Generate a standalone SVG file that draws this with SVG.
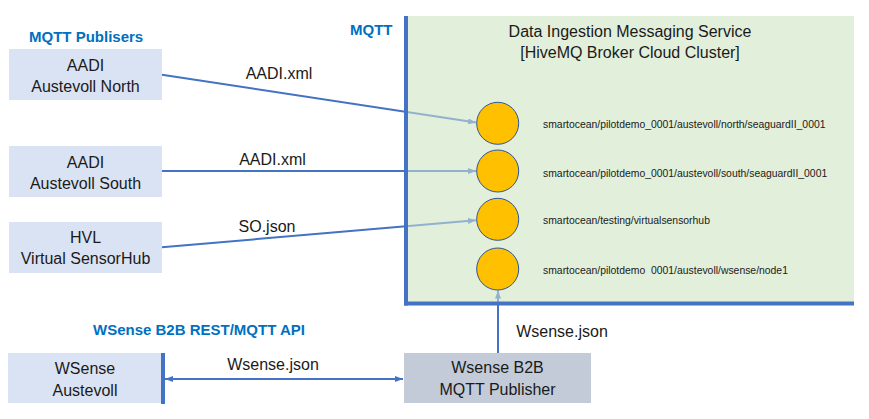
<svg xmlns="http://www.w3.org/2000/svg" width="869" height="419" viewBox="0 0 869 419">
<style>
  .box { fill: #DAE3F3; }
  .box2 { fill: #C3CBD9; }
  .t { font-family: "Liberation Sans", Arial, sans-serif; font-size: 16px; fill: #1a1a1a; }
  .tc { text-anchor: middle; }
  .h { font-family: "Liberation Sans", Arial, sans-serif; font-size: 15px; font-weight: bold; fill: #0070C0; }
  .topic { font-family: "Liberation Sans", Arial, sans-serif; font-size: 10.4px; fill: #1a1a1a; white-space: pre; }
  .con { stroke: #4472C4; stroke-width: 2; fill: none; }
  .bar { stroke: #4472C4; stroke-width: 4; fill: none; }
  .topicc { fill: #FFC000; stroke: #2F5597; stroke-width: 1; }
</style>
<defs>
  <marker id="arr" viewBox="0 0 8 6" refX="8" refY="3" markerWidth="4" markerHeight="3" orient="auto-start-reverse">
    <path d="M0,0 L8,3 L0,6 Z" fill="#4472C4"/>
  </marker>
</defs>
<rect width="869" height="419" fill="#ffffff"/>

<g id="broker">
  <rect x="406" y="16" width="448" height="288" fill="#E2EFDA"/>
</g>

<g id="connectors">
  <path class="con" d="M162,74.7 L476,122.6" marker-end="url(#arr)"/>
  <path class="con" d="M162,171 L476,171" marker-end="url(#arr)"/>
  <path class="con" d="M162,247.3 L476,220.2" marker-end="url(#arr)"/>
  <path class="con" d="M165,379 L403,379" marker-start="url(#arr)" marker-end="url(#arr)"/>
  <path class="con" d="M498,353 L498,290.5" marker-end="url(#arr)"/>
</g>

<g id="broker-veil">
  <rect x="408" y="16" width="446" height="286" fill="#E2EFDA" fill-opacity="0.5"/>
  <path class="bar" d="M406,16 L406,305.5"/>
  <path class="bar" d="M404,303.5 L854,303.5"/>
  <text class="t tc" x="630" y="36.5">Data Ingestion Messaging Service</text>
  <text class="t tc" x="630" y="57.5">[HiveMQ Broker Cloud Cluster]</text>
</g>

<g id="labels">
  <text class="h" x="29" y="42">MQTT Publisers</text>
  <text class="h" x="350" y="34.5">MQTT</text>
  <text class="h" x="93" y="334.5">WSense B2B REST/MQTT API</text>
  <text class="t tc" x="279" y="79">AADI.xml</text>
  <text class="t tc" x="272.5" y="165">AADI.xml</text>
  <text class="t tc" x="267" y="231.5">SO.json</text>
  <text class="t tc" x="273" y="369.5">Wsense.json</text>
  <text class="t tc" x="562" y="336.5">Wsense.json</text>
</g>

<g id="topic-north">
  <circle class="topicc" cx="497.7" cy="123.3" r="21"/>
  <text class="topic" x="543" y="128">smartocean/pilotdemo_0001/austevoll/north/seaguardII_0001</text>
</g>
<g id="topic-south">
  <circle class="topicc" cx="497.7" cy="171" r="21"/>
  <text class="topic" x="543" y="177">smartocean/pilotdemo_0001/austevoll/south/seaguardII_0001</text>
</g>
<g id="topic-virtual">
  <circle class="topicc" cx="497.7" cy="219.3" r="21"/>
  <text class="topic" x="543" y="223.7">smartocean/testing/virtualsensorhub</text>
</g>
<g id="topic-wsense">
  <circle class="topicc" cx="497.7" cy="269" r="21"/>
  <text class="topic" x="543" y="273.7">smartocean/pilotdemo  0001/austevoll/wsense/node1</text>
</g>

<g id="aadi-north">
  <rect class="box" x="9" y="49" width="153" height="51"/>
  <text class="t tc" x="85.5" y="70.5">AADI</text>
  <text class="t tc" x="85.5" y="91.5">Austevoll North</text>
</g>
<g id="aadi-south">
  <rect class="box" x="9" y="146" width="153" height="51"/>
  <text class="t tc" x="85.5" y="167.5">AADI</text>
  <text class="t tc" x="85.5" y="188.5">Austevoll South</text>
</g>
<g id="hvl">
  <rect class="box" x="9" y="222" width="153" height="51"/>
  <text class="t tc" x="85.5" y="242.5">HVL</text>
  <text class="t tc" x="85.5" y="263.5">Virtual SensorHub</text>
</g>
<g id="wsense-austevoll">
  <rect class="box" x="8" y="353" width="155" height="50"/>
  <path class="bar" d="M163,353 L163,404"/>
  <text class="t tc" x="85" y="373.5">WSense</text>
  <text class="t tc" x="85" y="395.5">Austevoll</text>
</g>
<g id="wsense-b2b">
  <rect class="box2" x="404" y="353" width="187" height="50"/>
  <text class="t tc" x="497.5" y="372.5">Wsense B2B</text>
  <text class="t tc" x="497.5" y="394.5">MQTT Publisher</text>
</g>
</svg>
